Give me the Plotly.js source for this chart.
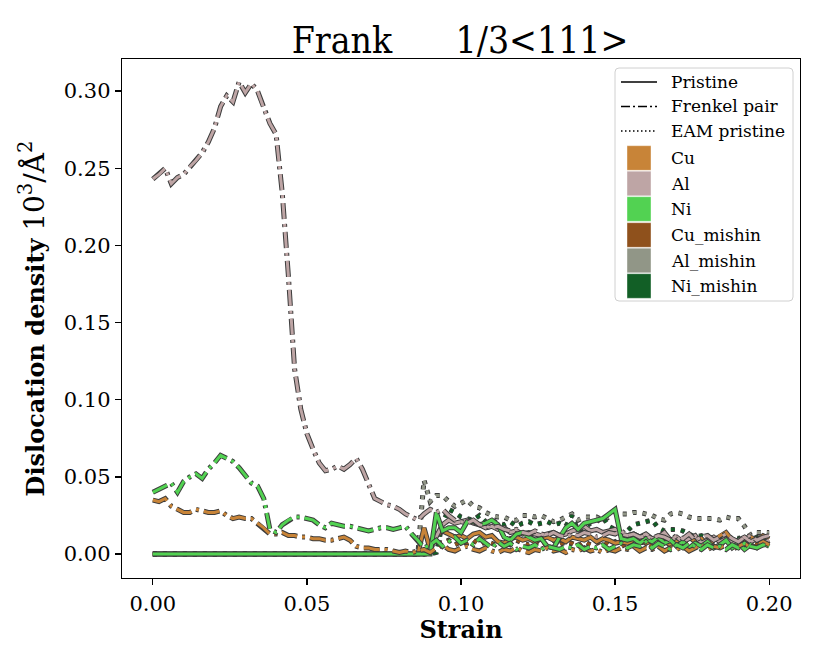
<!DOCTYPE html>
<html>
<head>
<meta charset="utf-8">
<script src="https://cdn.plot.ly/plotly-3.0.1.min.js"></script>
<style>html,body{margin:0;padding:0;background:#fff;}#plot{width:830px;height:664px;}</style>
</head>
<body>
<div id="plot"></div>
<script>
// ---------- DATA ----------
const chartTitle = "Frank\u00A0\u00A0\u00A0\u00A0\u00A0 1/3<111>";
const xLabel = "Strain";
const yLabel = "<b>Dislocation density</b> <span style=\"font-size:28px\">10<sup>3</sup>/Å<sup>2</sup></span>";
const xTicks = [0.00, 0.05, 0.10, 0.15, 0.20];
const yTicks = [0.00, 0.05, 0.10, 0.15, 0.20, 0.25, 0.30];

// Frenkel pair strain grid
const strainFP = [0.000,0.002,0.004,0.006,0.008,0.010,0.012,0.014,0.016,0.018,
  0.020,0.022,0.024,0.026,0.028,0.030,0.032,0.034,0.036,0.038,
  0.040,0.042,0.044,0.046,0.048,0.050,0.052,0.054,0.056,0.058,
  0.060,0.062,0.064,0.066,0.068,0.070,0.072,0.074,0.076,0.078,
  0.080,0.082,0.084,0.086,0.088,0.090,0.092,0.094,0.096,0.098,
  0.100,0.102,0.104,0.106,0.108,0.110,0.112,0.114,0.116,0.118,
  0.120,0.122,0.124,0.126,0.128,0.130,0.132,0.134,0.136,0.138,
  0.140,0.142,0.144,0.146,0.148,0.150,0.152,0.154,0.156,0.158,
  0.160,0.162,0.164,0.166,0.168,0.170,0.172,0.174,0.176,0.178,
  0.180,0.182,0.184,0.186,0.188,0.190,0.192,0.194,0.196,0.198,0.200];

const alFP = [0.243,0.246,0.250,0.240,0.244,0.246,0.251,0.255,0.260,0.267,
  0.276,0.290,0.297,0.293,0.306,0.299,0.305,0.300,0.289,0.279,
  0.272,0.234,0.180,0.120,0.094,0.078,0.068,0.059,0.054,0.055,
  0.057,0.055,0.058,0.062,0.055,0.045,0.036,0.034,0.032,0.031,
  0.029,0.026,0.024,0.022,0.026,0.029,0.027,0.029,0.025,0.022,
  0.021,0.020,0.022,0.019,0.018,0.017,0.018,0.016,0.015,0.016,
  0.014,0.013,0.015,0.013,0.012,0.014,0.012,0.011,0.013,0.012,
  0.014,0.013,0.011,0.012,0.014,0.013,0.015,0.012,0.013,0.011,
  0.012,0.010,0.012,0.011,0.009,0.012,0.010,0.013,0.009,0.011,
  0.012,0.009,0.011,0.013,0.010,0.008,0.011,0.012,0.009,0.011,0.012];

const niFP = [0.040,0.042,0.044,0.046,0.040,0.047,0.050,0.052,0.049,0.055,
  0.059,0.064,0.062,0.060,0.056,0.051,0.046,0.044,0.036,0.016,
  0.014,0.019,0.022,0.024,0.024,0.023,0.022,0.019,0.017,0.020,
  0.019,0.018,0.018,0.017,0.016,0.015,0.016,0.017,0.017,0.016,
  0.017,0.018,0.013,0.009,0.004,0.006,0.009,0.005,0.008,0.011,
  0.007,0.009,0.006,0.010,0.007,0.004,0.008,0.005,0.007,0.003,
  0.005,0.004,0.006,0.003,0.005,0.004,0.003,0.005,0.004,0.006,
  0.003,0.005,0.004,0.006,0.003,0.005,0.007,0.004,0.006,0.005,
  0.008,0.004,0.007,0.005,0.003,0.006,0.004,0.007,0.005,0.003,
  0.006,0.004,0.005,0.003,0.006,0.004,0.007,0.005,0.004,0.006,0.005];

const cuFP = [0.035,0.034,0.036,0.031,0.029,0.027,0.027,0.029,0.028,0.027,
  0.027,0.028,0.025,0.023,0.024,0.023,0.023,0.020,0.017,0.013,
  0.013,0.014,0.012,0.012,0.011,0.011,0.010,0.010,0.009,0.009,
  0.010,0.011,0.009,0.005,0.004,0.004,0.003,0.003,0.003,0.002,
  0.001,0.002,0.001,0.002,0.003,0.001,0.004,0.006,0.003,0.002,
  0.004,0.005,0.003,0.002,0.004,0.002,0.001,0.003,0.002,0.004,
  0.002,0.001,0.003,0.002,0.004,0.002,0.003,0.001,0.003,0.002,
  0.004,0.002,0.003,0.001,0.003,0.002,0.004,0.003,0.005,0.002,
  0.004,0.003,0.005,0.002,0.004,0.003,0.005,0.002,0.004,0.006,
  0.003,0.005,0.004,0.006,0.003,0.005,0.007,0.004,0.006,0.008,0.006];

// Pristine / EAM strain grid
const strainP = [0.000,0.086,0.088,0.090,0.092,0.094,0.096,0.098,0.100,0.102,
  0.104,0.106,0.108,0.110,0.112,0.114,0.116,0.118,0.120,0.122,
  0.124,0.126,0.128,0.130,0.132,0.134,0.136,0.138,0.140,0.142,
  0.144,0.146,0.148,0.150,0.152,0.154,0.156,0.158,0.160,0.162,
  0.164,0.166,0.168,0.170,0.172,0.174,0.176,0.178,0.180,0.182,
  0.184,0.186,0.188,0.190,0.192,0.194,0.196,0.198,0.200];

const cuP = [0,0,0.017,0.003,0.012,0.015,0.013,0.011,0.012,0.010,
  0.013,0.014,0.011,0.012,0.008,0.007,0.010,0.011,0.009,0.010,
  0.008,0.010,0.011,0.009,0.010,0.008,0.011,0.010,0.009,0.011,
  0.008,0.010,0.009,0.007,0.008,0.007,0.009,0.010,0.007,0.009,
  0.011,0.008,0.006,0.009,0.007,0.011,0.008,0.010,0.006,0.009,
  0.012,0.014,0.009,0.006,0.008,0.011,0.009,0.012,0.010];

const alP = [0,0,0,0.004,0.012,0.019,0.022,0.020,0.021,0.022,
  0.020,0.019,0.017,0.018,0.016,0.017,0.014,0.015,0.013,0.014,
  0.013,0.012,0.013,0.014,0.012,0.013,0.015,0.016,0.018,0.015,
  0.016,0.014,0.015,0.016,0.013,0.012,0.013,0.011,0.013,0.010,
  0.011,0.014,0.009,0.011,0.008,0.010,0.012,0.007,0.009,0.011,
  0.008,0.010,0.007,0.009,0.011,0.008,0.010,0.007,0.009];

const niP = [0,0,0,0,0.027,0.015,0.017,0.017,0.014,0.021,
  0.021,0.019,0.020,0.022,0.019,0.011,0.009,0.013,0.014,0.011,
  0.009,0.010,0.005,0.004,0.011,0.017,0.020,0.016,0.020,0.021,
  0.022,0.023,0.026,0.029,0.010,0.009,0.010,0.007,0.010,0.008,
  0.011,0.007,0.009,0.005,0.008,0.004,0.007,0.005,0.008,0.004,
  0.006,0.009,0.004,0.007,0.003,0.006,0.004,0.007,0.005];

const cuM = [0,0,0,0.004,0.008,0.007,0.009,0.006,0.008,0.007,
  0.009,0.006,0.008,0.007,0.005,0.008,0.006,0.009,0.007,0.006,
  0.008,0.005,0.007,0.009,0.006,0.008,0.007,0.005,0.008,0.006,
  0.007,0.009,0.006,0.008,0.005,0.007,0.006,0.008,0.007,0.005,
  0.008,0.006,0.007,0.009,0.006,0.008,0.005,0.007,0.006,0.008,
  0.007,0.005,0.008,0.006,0.009,0.007,0.006,0.008,0.007];

const alM = [0,0,0.048,0.034,0.038,0.038,0.034,0.031,0.033,0.035,
  0.031,0.030,0.027,0.025,0.024,0.024,0.022,0.022,0.025,0.025,
  0.024,0.025,0.023,0.021,0.022,0.024,0.026,0.022,0.024,0.024,
  0.024,0.022,0.024,0.027,0.026,0.026,0.027,0.027,0.026,0.025,
  0.023,0.022,0.026,0.027,0.026,0.024,0.023,0.023,0.023,0.023,
  0.022,0.024,0.023,0.023,0.018,0.012,0.014,0.014,0.014];

const niM = [0,0,0,0,0.001,0.020,0.029,0.027,0.024,0.023,
  0.022,0.025,0.021,0.022,0.020,0.019,0.021,0.018,0.020,0.021,
  0.019,0.020,0.021,0.019,0.020,0.018,0.025,0.015,0.017,0.020,
  0.021,0.024,0.018,0.016,0.014,0.015,0.019,0.020,0.021,0.022,
  0.017,0.015,0.016,0.016,0.015,0.013,0.011,0.012,0.010,0.011,
  0.010,0.009,0.011,0.010,0.012,0.009,0.011,0.008,0.010];

const styleNames = ["Pristine", "Frenkel pair", "EAM pristine"];
const colorNames = ["Cu", "Al", "Ni", "Cu_mishin", "Al_mishin", "Ni_mishin"];
const colors = ["#C88438", "#BEA5A5", "#52D252", "#8F511C", "#919687", "#125F26"];

// ---------- STYLE ----------
const FONT = "DejaVu Serif, serif";
const OUTLINE = "#3c3c3c";
const DASH_FP = "16px,5px,3px,5px";
const DASH_EAM = "4px,6px";

const traces = [];
function addSeries(x, y, color, dash) {
  traces.push({x: x, y: y, type: "scatter", mode: "lines", hoverinfo: "skip",
    line: {color: OUTLINE, width: 5, dash: dash}, showlegend: false});
  traces.push({x: x, y: y, type: "scatter", mode: "lines", hoverinfo: "skip",
    line: {color: color, width: 3, dash: dash}, showlegend: false});
}
// EAM pristine (dotted)
addSeries(strainP, cuM, colors[3], DASH_EAM);
addSeries(strainP, alM, colors[4], DASH_EAM);
addSeries(strainP, niM, colors[5], DASH_EAM);
// Pristine (solid)
addSeries(strainP, cuP, colors[0], "solid");
addSeries(strainP, alP, colors[1], "solid");
addSeries(strainP, niP, colors[2], "solid");
// Frenkel pair (dash-dot)
addSeries(strainFP, cuFP, colors[0], DASH_FP);
addSeries(strainFP, alFP, colors[1], DASH_FP);
addSeries(strainFP, niFP, colors[2], DASH_FP);

// ---------- LEGEND (drawn manually) ----------
const L = 122, T = 59, W = 678, H = 519;
const px = p => (p - L) / W;
const py = p => (T + H - p) / H;
const shapes = [];
const annotations = [];
// rounded box
(function(){
  const x0 = 615, x1 = 793, y0 = 68, y1 = 301, r = 4;
  const pth = `M${px(x0+r)},${py(y0)} L${px(x1-r)},${py(y0)} Q${px(x1)},${py(y0)} ${px(x1)},${py(y0+r)} ` +
    `L${px(x1)},${py(y1-r)} Q${px(x1)},${py(y1)} ${px(x1-r)},${py(y1)} ` +
    `L${px(x0+r)},${py(y1)} Q${px(x0)},${py(y1)} ${px(x0)},${py(y1-r)} ` +
    `L${px(x0)},${py(y0+r)} Q${px(x0)},${py(y0)} ${px(x0+r)},${py(y0)} Z`;
  shapes.push({type: "path", xref: "paper", yref: "paper", path: pth,
    fillcolor: "rgba(255,255,255,0.85)", line: {color: "#d0d0d0", width: 1}, layer: "above"});
})();
const rowY = [82, 106.5, 131, 158, 183.5, 209, 235, 260.5, 286];
const sampleDash = ["solid", "9px,3px,2px,3px", "1.5px,2.5px"];
styleNames.forEach((name, i) => {
  shapes.push({type: "line", xref: "paper", yref: "paper", layer: "above",
    x0: px(621), x1: px(657), y0: py(rowY[i]), y1: py(rowY[i]),
    line: {color: "#000", width: 1.6, dash: sampleDash[i]}});
  annotations.push({xref: "paper", yref: "paper", x: px(669), y: py(rowY[i]),
    xanchor: "left", yanchor: "middle", showarrow: false, text: name,
    font: {family: FONT, size: 17, color: "#000"}});
});
colorNames.forEach((name, i) => {
  const yc = rowY[i + 3];
  shapes.push({type: "rect", xref: "paper", yref: "paper", layer: "above",
    x0: px(627), x1: px(651), y0: py(yc - 12.3), y1: py(yc + 12.3),
    fillcolor: colors[i], line: {color: "rgba(255,255,255,0.5)", width: 0.8}});
  annotations.push({xref: "paper", yref: "paper", x: px(669), y: py(yc),
    xanchor: "left", yanchor: "middle", showarrow: false, text: name,
    font: {family: FONT, size: 17, color: "#000"}});
});

const layout = {
  width: 830, height: 664,
  margin: {l: L, r: 830 - L - W, t: T, b: 664 - T - H, pad: 0},
  paper_bgcolor: "#fff", plot_bgcolor: "#fff",
  showlegend: false,
  title: {text: chartTitle, font: {family: "DejaVu Serif Condensed, DejaVu Serif, serif", size: 37, color: "#000"},
    x: px(460), xref: "paper", xanchor: "center", y: 1 - 40 / 664, yanchor: "middle"},
  xaxis: {
    range: [-0.01, 0.21], tickvals: xTicks, ticktext: xTicks.map(v => v.toFixed(2)),
    ticks: "outside", ticklen: 6, tickwidth: 1.3, tickcolor: "#000",
    showline: true, linecolor: "#000", linewidth: 1.3, mirror: true,
    showgrid: false, zeroline: false,
    tickfont: {family: FONT, size: 21, color: "#000"},
    title: {text: "<b>" + xLabel + "</b>", font: {family: FONT, size: 24, color: "#000"}, standoff: 4}
  },
  yaxis: {
    range: [-0.0155, 0.3208], tickvals: yTicks, ticktext: yTicks.map(v => v.toFixed(2)),
    ticks: "outside", ticklen: 6, tickwidth: 1.3, tickcolor: "#000",
    showline: true, linecolor: "#000", linewidth: 1.3, mirror: true,
    showgrid: false, zeroline: false,
    tickfont: {family: FONT, size: 21, color: "#000"},
    title: {text: yLabel, font: {family: FONT, size: 24, color: "#000"}, standoff: 12}
  },
  shapes: shapes,
  annotations: annotations
};

Plotly.newPlot("plot", traces, layout, {staticPlot: true, displayModeBar: false});
</script>
</body>
</html>
